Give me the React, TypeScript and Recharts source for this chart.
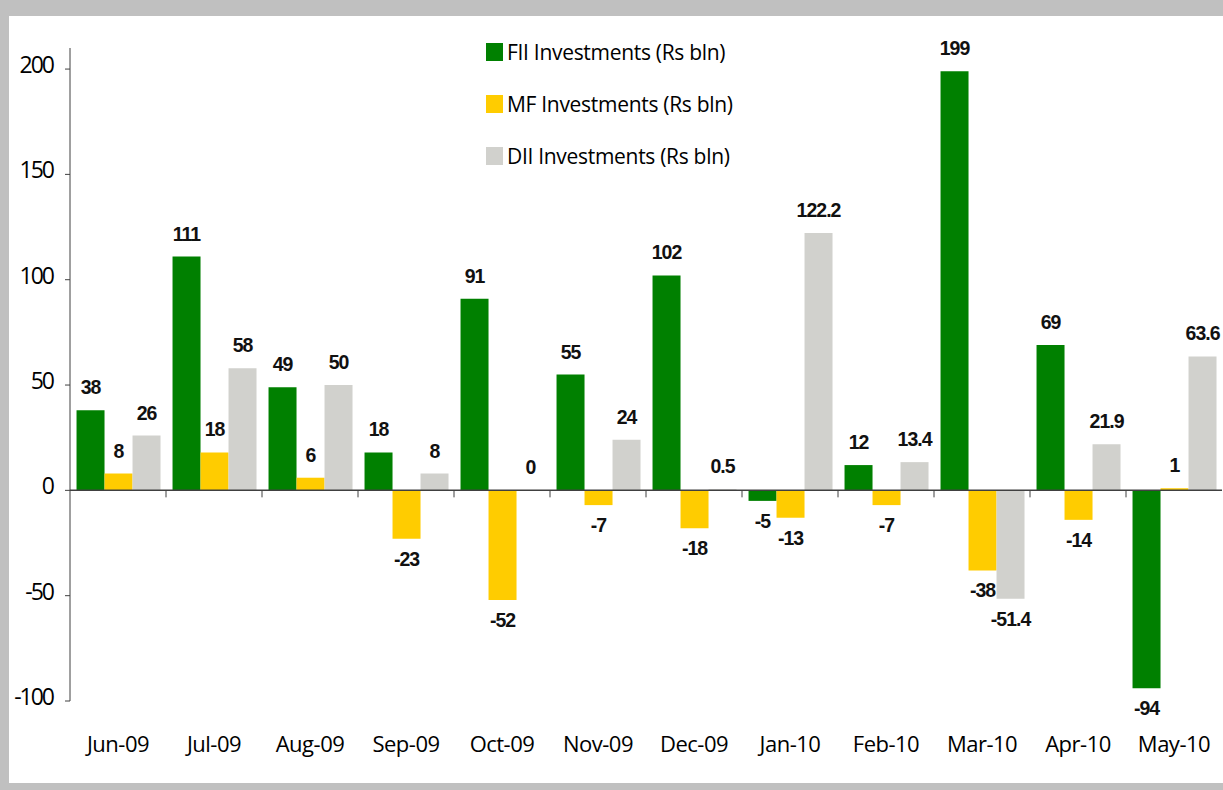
import React from 'react';
import { BarChart, Bar, XAxis, YAxis, ReferenceLine, Legend } from 'recharts';

const categories = ['Jun-09', 'Jul-09', 'Aug-09', 'Sep-09', 'Oct-09', 'Nov-09', 'Dec-09', 'Jan-10', 'Feb-10', 'Mar-10', 'Apr-10', 'May-10'];
const fiiValues = [38, 111, 49, 18, 91, 55, 102, -5, 12, 199, 69, -94];
const mfValues = [8, 18, 6, -23, -52, -7, -18, -13, -7, -38, -14, 1];
const diiValues = [26, 58, 50, 8, 0, 24, 0.5, 122.2, 13.4, -51.4, 21.9, 63.6];
const yTicks = [-100, -50, 0, 50, 100, 150, 200];
const seriesNames = ['FII Investments (Rs bln)', 'MF Investments (Rs bln)', 'DII Investments (Rs bln)'];

const data = categories.map((c, i) => ({ month: c, fii: fiiValues[i], mf: mfValues[i], dii: diiValues[i] }));

const W = 1223;
const H = 790;
const MARGIN = { top: 48, right: 1, bottom: 29, left: 0 };
const Y_AXIS_W = 70;
const X_AXIS_H = 60;
const Y_MIN = -100;
const Y_MAX = 210;
const PLOT_W = W - MARGIN.left - MARGIN.right - Y_AXIS_W;
const PLOT_H = H - MARGIN.top - MARGIN.bottom - X_AXIS_H;
const ZERO_Y = MARGIN.top + PLOT_H * (Y_MAX / (Y_MAX - Y_MIN));

const AXIS_FONT = "'Open Sans', 'Noto Sans', sans-serif";
const LABEL_FONT = "'Liberation Sans', Arial, sans-serif";
const AXIS_COLOR = '#404040';

const XTick = (props: any) => {
  const { x, y, payload, index } = props;
  const band = PLOT_W / categories.length;
  return (
    <g>
      {index > 0 && (
        <line x1={x - band / 2} x2={x - band / 2} y1={ZERO_Y} y2={ZERO_Y + 7} stroke={AXIS_COLOR} strokeWidth={1} />
      )}
      <text x={x} y={y} dy={51} textAnchor="middle" fontSize={22} fontFamily={AXIS_FONT} fill="#000" letterSpacing={-0.5}>
        {payload.value}
      </text>
    </g>
  );
};

const YTick = (props: any) => {
  const { x, y, payload } = props;
  return (
    <text x={x} y={y} dy={4} textAnchor="end" fontSize={23} fontFamily={AXIS_FONT} fill="#000" letterSpacing={-2}>
      {payload.value}
    </text>
  );
};

const ValueLabel = (props: any) => {
  const { x, y, width, height, value } = props;
  const top = Math.min(y, y + (height || 0));
  const bottom = Math.max(y, y + (height || 0));
  const cx = x + width / 2;
  const ty = value >= 0 ? top - 16 : bottom + 27;
  return (
    <text x={cx} y={ty} textAnchor="middle" fontSize={19.5} fontWeight="bold" fontFamily={LABEL_FONT} fill="#111" letterSpacing={-1}>
      {String(value)}
    </text>
  );
};

const LegendContent = (props: any) => {
  const payload = [...(props.payload || [])].sort(
    (a: any, b: any) => seriesNames.indexOf(a.value) - seriesNames.indexOf(b.value)
  );
  return (
    <div>
      {payload.map((p: any, i: number) => (
        <div key={i} style={{ display: 'flex', alignItems: 'center', height: 52 }}>
          <div style={{ width: 17, height: 18, background: p.color, marginRight: 4 }} />
          <span style={{ fontFamily: AXIS_FONT, fontSize: 21, color: '#000', letterSpacing: -0.3, whiteSpace: 'nowrap' }}>{p.value}</span>
        </div>
      ))}
    </div>
  );
};

export default function App() {
  return (
    <div style={{ position: 'absolute', left: 0, top: 0, width: W, height: H, background: '#C0C0C0' }}>
      <div style={{ position: 'absolute', left: 9, top: 16, width: W - 9, height: H - 16 - 7, background: '#fff' }} />
      <div style={{ position: 'absolute', left: 0, top: 0 }}>
        <BarChart width={W} height={H} data={data} margin={MARGIN} barCategoryGap="6.8%" barGap={0}>
          <XAxis
            dataKey="month"
            axisLine={false}
            tickLine={false}
            tickSize={0}
            tickMargin={0}
            height={X_AXIS_H}
            tick={<XTick />}
            interval={0}
          />
          <YAxis
            domain={[Y_MIN, Y_MAX]}
            ticks={yTicks}
            width={Y_AXIS_W}
            allowDataOverflow
            axisLine={{ stroke: AXIS_COLOR }}
            tickLine={{ stroke: AXIS_COLOR }}
            tickSize={5}
            tickMargin={12}
            tick={<YTick />}
            interval={0}
          />
          <ReferenceLine y={0} stroke={AXIS_COLOR} strokeWidth={1.5} />
          <Legend
            layout="vertical"
            verticalAlign="middle"
            align="center"
            wrapperStyle={{ left: 486, top: 26, width: 300 }}
            content={<LegendContent />}
          />
          <Bar dataKey="fii" name={seriesNames[0]} fill="#008000" isAnimationActive={false} minPointSize={0.01} label={<ValueLabel />} />
          <Bar dataKey="mf" name={seriesNames[1]} fill="#FFCC00" isAnimationActive={false} minPointSize={0.01} label={<ValueLabel />} />
          <Bar dataKey="dii" name={seriesNames[2]} fill="#D1D1CD" isAnimationActive={false} minPointSize={0.01} label={<ValueLabel />} />
        </BarChart>
      </div>
    </div>
  );
}
